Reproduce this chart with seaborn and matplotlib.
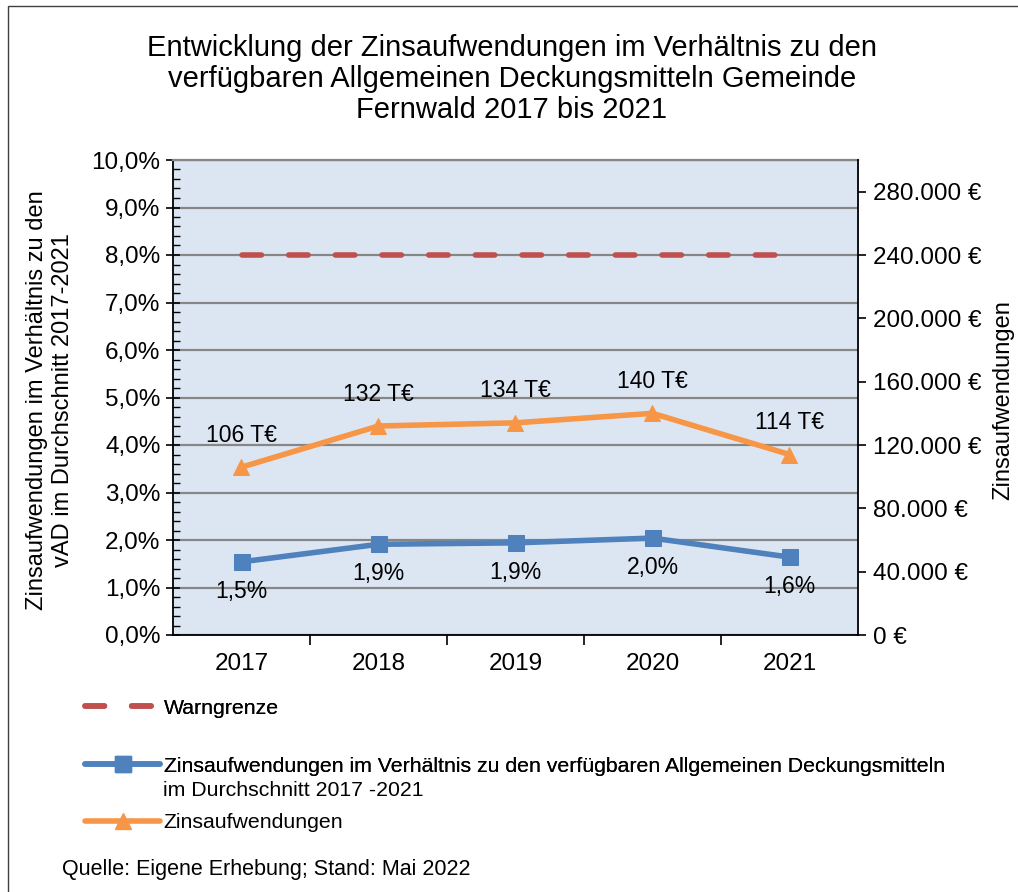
import matplotlib
matplotlib.use("Agg")
import matplotlib.pyplot as plt
import matplotlib.ticker as mticker
from matplotlib.lines import Line2D
from matplotlib.patches import Rectangle
import seaborn as sns
import pandas as pd

# ---- data ----
years = ["2017", "2018", "2019", "2020", "2021"]
ratio_pct = [1.54, 1.91, 1.94, 2.04, 1.64]
ratio_labels = ["1,5%", "1,9%", "1,9%", "2,0%", "1,6%"]
interest_eur = [106000, 132000, 134000, 140000, 114000]
interest_labels = ["106 T€", "132 T€", "134 T€", "140 T€", "114 T€"]
warn_pct = [8.0, 8.0, 8.0, 8.0, 8.0]

title = ("Entwicklung der Zinsaufwendungen im Verhältnis zu den\n"
         "verfügbaren Allgemeinen Deckungsmitteln Gemeinde\n"
         "Fernwald 2017 bis 2021")
left_label = "Zinsaufwendungen im Verhältnis zu den\nvAD im Durchschnitt 2017-2021"
right_label = "Zinsaufwendungen"
leg_warn = "Warngrenze"
leg_ratio_1 = "Zinsaufwendungen im Verhältnis zu den verfügbaren Allgemeinen Deckungsmitteln"
leg_ratio_2 = "im Durchschnitt 2017 -2021"
leg_int = "Zinsaufwendungen"
source = "Quelle: Eigene Erhebung; Stand: Mai 2022"

df = pd.DataFrame({"year": years, "ratio": ratio_pct, "interest": interest_eur, "warn": warn_pct})

BLUE = "#4F81BD"
ORANGE = "#F79646"
RED = "#C0504D"
GRID = "#868686"

sns.set_style("white")
plt.rcParams["font.family"] = ["Liberation Sans", "DejaVu Sans"]
plt.rcParams["text.color"] = "black"
plt.rcParams["axes.labelcolor"] = "black"
plt.rcParams["xtick.color"] = "black"
plt.rcParams["ytick.color"] = "black"

TICK_FS = 17.5
LBL_FS = 16.5

W, H = 1018, 892
fig = plt.figure(figsize=(W / 100, H / 100), dpi=100)
ax = fig.add_axes([173 / W, 1 - 635 / H, (858 - 173) / W, (635 - 160) / H])
ax.set_facecolor("#DCE6F2")

# warn line
sns.lineplot(data=df, x="year", y="warn", ax=ax, color=RED, linewidth=4,
             dashes=False, sort=False, legend=False, zorder=3)
warn_line = ax.lines[-1]
warn_line.set_dashes((3.5, 4.9))
warn_line.set_dash_capstyle("round")

# ratio line
sns.lineplot(data=df, x="year", y="ratio", ax=ax, color=BLUE, linewidth=4,
             marker="s", markersize=11, markeredgecolor=BLUE, sort=False,
             legend=False, zorder=4)

ax.set_xlim(-0.5, 4.5)
ax.set_ylim(0, 10)
ax.yaxis.set_major_locator(mticker.MultipleLocator(1))
ax.yaxis.set_minor_locator(mticker.MultipleLocator(0.2))
ax.yaxis.set_major_formatter(mticker.FuncFormatter(lambda v, p: f"{v:.1f}%".replace(".", ",")))
ax.grid(axis="y", which="major", color=GRID, linewidth=1.6, zorder=1)
ax.set_axisbelow(True)
ax.tick_params(axis="y", which="major", direction="inout", length=10, width=1.2,
               labelsize=TICK_FS, pad=4, left=True)
ax.tick_params(axis="y", which="minor", direction="in", length=5, width=1.0, left=True)
ax.set_xticks(range(len(years)))
ax.set_xticklabels(years)
ax.xaxis.set_minor_locator(mticker.FixedLocator([0.5, 1.5, 2.5, 3.5]))
ax.tick_params(axis="x", which="major", length=0, labelsize=TICK_FS, pad=13)
ax.tick_params(axis="x", which="minor", direction="out", length=7, width=1.2, bottom=True)
ax.set_xlabel("")
ax.set_ylabel("")
for s in ["left", "bottom"]:
    ax.spines[s].set_color("black")
    ax.spines[s].set_linewidth(1.3)
ax.spines["top"].set_color(GRID)
ax.spines["top"].set_linewidth(1.6)
ax.spines["right"].set_visible(False)

for i, (v, t) in enumerate(zip(ratio_pct, ratio_labels)):
    ax.annotate(t, (i, v), xytext=(0, -21), textcoords="offset points",
                ha="center", va="center", fontsize=LBL_FS, zorder=6)

# secondary axis
ax2 = ax.twinx()
sns.lineplot(data=df, x="year", y="interest", ax=ax2, color=ORANGE, linewidth=4,
             marker="^", markersize=12, markeredgecolor=ORANGE, sort=False,
             legend=False, zorder=4)
ax2.set_xlim(-0.5, 4.5)
ax2.set_ylim(0, 300000)
ax2.yaxis.set_major_locator(mticker.FixedLocator(list(range(0, 280001, 40000))))
ax2.yaxis.set_major_formatter(mticker.FuncFormatter(lambda v, p: f"{v:,.0f} €".replace(",", ".")))
ax2.tick_params(axis="y", direction="out", length=6, width=1.2, labelsize=TICK_FS, pad=5)
ax2.set_ylabel("")
ax2.set_xlabel("")
ax2.grid(False)
for s in ["left", "top", "bottom"]:
    ax2.spines[s].set_visible(False)
ax2.spines["right"].set_color("black")
ax2.spines["right"].set_linewidth(1.3)

for i, (v, t) in enumerate(zip(interest_eur, interest_labels)):
    ax2.annotate(t, (i, v), xytext=(0, 23), textcoords="offset points",
                 ha="center", va="center", fontsize=LBL_FS, zorder=6)

# axis titles
fig.text(50 / W, 1 - 400 / H, left_label, rotation=90, ha="center", va="center",
         fontsize=17, linespacing=1.2)
fig.text(1003 / W, 1 - 400 / H, right_label, rotation=90, ha="center", va="center", fontsize=17)

# title
fig.text(512 / W, 1 - 79 / H, title, ha="center", va="center", fontsize=21, linespacing=1.13)

# legends
def add_leg(handle, label, ycen):
    lg = fig.legend([handle], [label], loc="center left",
                    bbox_to_anchor=(85 / W, 1 - ycen / H), frameon=False,
                    fontsize=15.3, handlelength=3.55, handletextpad=0.15,
                    borderaxespad=0, borderpad=0)
    return lg

h_warn = Line2D([], [], color=RED, linewidth=4, dashes=(3.5, 4.9), dash_capstyle="round")
h_ratio = Line2D([], [], color=BLUE, linewidth=4, marker="s", markersize=11)
h_int = Line2D([], [], color=ORANGE, linewidth=4, marker="^", markersize=12)
l1 = add_leg(h_warn, leg_warn, 708)
fig.add_artist(l1)
l2 = add_leg(h_ratio, leg_ratio_1, 766)
fig.add_artist(l2)
l3 = add_leg(h_int, leg_int, 823)
fig.text(163 / W, 1 - 790 / H, leg_ratio_2, ha="left", va="center", fontsize=15.3)

fig.text(62 / W, 1 - 870 / H, source, ha="left", va="center", fontsize=15.5)

# outer frame
fig.add_artist(Rectangle((8 / W, -0.05), 1.1, 1 - 6 / H + 0.05, transform=fig.transFigure,
                         fill=False, edgecolor="#404040", linewidth=1.0))

fig.savefig("out.png", dpi=100)
